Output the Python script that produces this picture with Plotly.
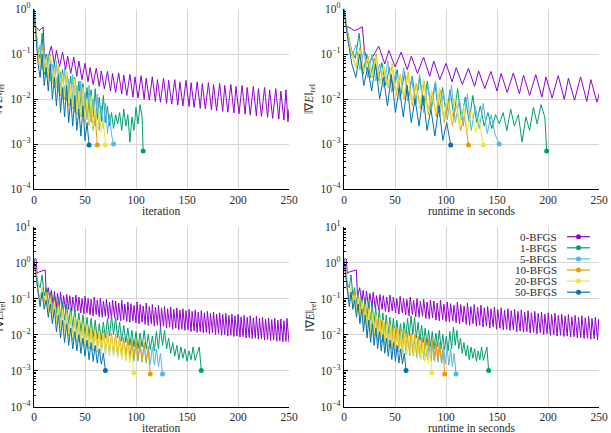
import plotly.graph_objects as go
from plotly.subplots import make_subplots

W, H = 611, 433
FONT = "Liberation Serif, Times New Roman, serif"

series_names = ["0-BFGS", "1-BFGS", "5-BFGS", "10-BFGS", "20-BFGS", "50-BFGS"]
series_colors = ["#9400d3", "#009e73", "#56b4e9", "#e69f00", "#f0e442", "#0072b2"]

x_ticks = [0, 50, 100, 150, 200, 250]
x_title_iter = "iteration"
x_title_time = "runtime in seconds"
y_title = "\u2016\u2207<i>E</i>\u2016<sub>rel</sub>"

# ---------------- top row (first problem) ----------------
top0_iter = [0, 1, 3, 5, 7, 9, 10, 12, 14,
             17, 20, 22, 25, 28, 31, 33, 36, 39, 42, 44, 47, 50, 53, 55, 58, 61, 64, 66, 69, 72, 75, 77, 80,
             83, 86, 88, 91, 94, 97, 99, 102, 105, 108, 110, 113, 116, 119, 121, 124, 127, 130, 132, 135,
             138, 141, 143, 146, 149, 152, 154, 157, 160, 163, 165, 168, 171, 174, 176, 179, 182, 185, 187,
             190, 193, 196, 198, 201, 204, 207, 209, 212, 215, 218, 220, 223, 226, 229, 231, 234, 237, 240,
             242, 245, 247, 249, 250]
top0_grad = [1.0, 0.42, 0.38, 0.33, 0.36, 0.4, 0.12, 0.06, 0.085,
             0.15, 0.06, 0.12, 0.052, 0.11, 0.045, 0.09, 0.037, 0.085, 0.032, 0.07, 0.027, 0.062, 0.024,
             0.05, 0.021, 0.048, 0.019, 0.042, 0.017, 0.041, 0.015, 0.037, 0.014, 0.038, 0.013, 0.034, 0.012,
             0.035, 0.011, 0.031, 0.0105, 0.033, 0.0098, 0.029, 0.0094, 0.031, 0.0088, 0.027, 0.0085, 0.029,
             0.008, 0.026, 0.0077, 0.027, 0.0073, 0.024, 0.007, 0.026, 0.0068, 0.023, 0.0065, 0.024, 0.0062,
             0.022, 0.006, 0.023, 0.0057, 0.021, 0.0055, 0.022, 0.0053, 0.02, 0.0051, 0.021, 0.0049, 0.019,
             0.0047, 0.02, 0.0046, 0.018, 0.0044, 0.019, 0.0042, 0.017, 0.0041, 0.018, 0.0039, 0.016, 0.0037,
             0.017, 0.0036, 0.015, 0.0034, 0.016, 0.0031, 0.006]
top0_secs = [0, 2, 6, 10, 14, 18, 20, 24, 28, 34, 40, 44, 50, 56, 62, 66, 72, 78, 84, 88, 94, 100, 106, 110,
             116, 122, 128, 132, 138, 144, 150, 154, 160, 166, 172, 176, 182, 188, 194, 198, 204, 210, 216,
             220, 226, 232, 238, 242, 248, 254]

top1_iter = [0, 2, 4, 6, 8, 10, 12, 14, 16, 18, 20, 22, 24, 26, 28, 30, 32, 34, 36, 38, 40, 42, 44, 46, 48,
             50, 52, 54, 56, 58, 60, 62, 64, 66, 68, 70, 72, 74, 76, 78, 80, 82, 84, 86, 88, 90, 92, 94, 96,
             98, 100, 102, 104, 106, 107]
top1_grad = [1.0, 0.3, 0.12, 0.08, 0.29, 0.035, 0.1, 0.03, 0.08, 0.025, 0.065, 0.02, 0.05, 0.015, 0.045,
             0.012, 0.04, 0.01, 0.032, 0.008, 0.03, 0.007, 0.025, 0.006, 0.022, 0.005, 0.018, 0.0045, 0.016,
             0.004, 0.017, 0.0035, 0.011, 0.0032, 0.012, 0.003, 0.007, 0.0025, 0.005, 0.0022, 0.0045, 0.0028,
             0.005, 0.002, 0.006, 0.0025, 0.0045, 0.0011, 0.004, 0.002, 0.0065, 0.0028, 0.0075, 0.004, 0.0007]
top1_secs = [0, 3.7, 7.4, 11.1, 14.9, 18.6, 22.3, 26, 29.7, 33.4, 37.1, 40.9, 44.6, 48.3, 52, 55.7, 59.4,
             63.1, 66.9, 70.6, 74.3, 78, 81.7, 85.4, 89.1, 92.9, 96.6, 100.3, 104, 107.7, 111.4, 115.1, 118.9,
             122.6, 126.3, 130, 133.7, 137.4, 141.1, 144.9, 148.6, 152.3, 156, 159.7, 163.4, 167.1, 170.9,
             174.6, 178.3, 182, 185.7, 189.4, 193.1, 196.9, 198.7]

top5_iter = [0, 2, 4, 6, 8, 10, 12, 14, 16, 18, 20, 22, 24, 26, 28, 30, 32, 34, 36, 38, 40, 42, 44, 46, 48,
             50, 52, 54, 56, 58, 60, 62, 64, 66, 68, 70, 72, 74, 76, 78]
top5_grad = [1.0, 0.22, 0.09, 0.16, 0.045, 0.12, 0.03, 0.1, 0.025, 0.06, 0.018, 0.07, 0.014, 0.04, 0.01,
             0.05, 0.009, 0.028, 0.007, 0.035, 0.005, 0.02, 0.006, 0.025, 0.004, 0.014, 0.0035, 0.02, 0.003,
             0.01, 0.0025, 0.013, 0.002, 0.007, 0.0022, 0.008, 0.0017, 0.0045, 0.0016, 0.001]
top5_secs = [0, 3.9, 7.8, 11.7, 15.6, 19.5, 23.4, 27.3, 31.2, 35.1, 39, 42.9, 46.8, 50.7, 54.6, 58.5, 62.4,
             66.3, 70.2, 74.1, 78, 81.9, 85.8, 89.7, 93.6, 97.5, 101.4, 105.3, 109.2, 113.1, 117, 120.9,
             124.8, 128.7, 132.6, 136.5, 140.4, 144.3, 148.2, 152.1]

top10_iter = [0, 2, 4, 6, 8, 10, 12, 14, 16, 18, 20, 22, 24, 26, 28, 30, 32, 34, 36, 38, 40, 42, 44, 46,
              48, 50, 52, 54, 56, 58, 60, 62]
top10_grad = [1.0, 0.25, 0.1, 0.05, 0.14, 0.04, 0.09, 0.03, 0.1, 0.022, 0.05, 0.018, 0.06, 0.012, 0.035,
              0.01, 0.04, 0.007, 0.022, 0.006, 0.025, 0.0045, 0.014, 0.004, 0.016, 0.003, 0.009, 0.0026,
              0.008, 0.002, 0.0045, 0.00095]
top10_secs = [0, 3.9, 7.9, 11.8, 15.7, 19.7, 23.6, 27.6, 31.5, 35.4, 39.4, 43.3, 47.2, 51.2, 55.1, 59, 63,
              66.9, 70.8, 74.8, 78.7, 82.7, 86.6, 90.5, 94.5, 98.4, 102.3, 106.3, 110.2, 114.2, 118.1, 122]

top20_iter = [0, 2, 4, 6, 8, 10, 12, 14, 16, 18, 20, 22, 24, 26, 28, 30, 32, 34, 36, 38, 40, 42, 44, 46,
              48, 50, 52, 54, 56, 58, 60, 62, 64, 66, 68, 70]
top20_grad = [1.0, 0.25, 0.1, 0.05, 0.12, 0.04, 0.08, 0.03, 0.09, 0.022, 0.05, 0.018, 0.06, 0.013, 0.035,
              0.011, 0.04, 0.008, 0.022, 0.0065, 0.028, 0.005, 0.015, 0.0045, 0.018, 0.0035, 0.01, 0.003,
              0.012, 0.0025, 0.007, 0.002, 0.006, 0.0018, 0.0035, 0.00095]
top20_secs = [0, 3.9, 7.8, 11.7, 15.6, 19.5, 23.4, 27.3, 31.2, 35.1, 39, 42.9, 46.8, 50.7, 54.6, 58.5, 62.4,
              66.3, 70.2, 74.1, 78, 81.9, 85.8, 89.7, 93.6, 97.5, 101.4, 105.3, 109.2, 113.1, 117, 120.9,
              124.8, 128.7, 132.6, 136.6]

top50_iter = [0, 2, 4, 6, 8, 10, 12, 14, 16, 18, 20, 22, 24, 26, 28, 30, 32, 34, 36, 38, 40, 42, 44, 46,
              48, 50, 52, 54]
top50_grad = [1.0, 0.2, 0.06, 0.03, 0.1, 0.02, 0.05, 0.015, 0.06, 0.01, 0.03, 0.007, 0.035, 0.005, 0.018,
              0.004, 0.02, 0.003, 0.01, 0.0025, 0.012, 0.002, 0.006, 0.0015, 0.007, 0.0012, 0.003, 0.00095]
top50_secs = [0, 3.9, 7.7, 11.6, 15.5, 19.4, 23.2, 27.1, 31, 34.9, 38.7, 42.6, 46.5, 50.4, 54.2, 58.1, 62,
              65.9, 69.7, 73.6, 77.5, 81.4, 85.2, 89.1, 93, 96.9, 100.7, 104.6]

# ---------------- bottom row (second problem) ----------------
bot0_iter = [0, 1, 2, 3, 5, 7, 9, 11, 12, 14, 16, 17, 19, 20, 22, 23, 25, 26, 28, 29, 31, 32, 34, 35, 37, 38,
             40, 41, 43, 44, 46, 47, 49, 50, 52, 53, 55, 56, 58, 59, 61, 62, 64, 65, 67, 68, 70, 71, 73, 74,
             76, 77, 79, 80, 82, 83, 85, 86, 88, 89, 91, 92, 94, 95, 97, 98, 100, 101, 103, 104, 106, 107,
             109, 110, 112, 113, 115, 116, 118, 119, 121, 122, 124, 125, 127, 128, 130, 131, 133, 134, 136,
             137, 139, 140, 142, 143, 145, 146, 148, 149, 151, 152, 154, 155, 157, 158, 160, 161, 163, 164,
             166, 167, 169, 170, 172, 173, 175, 176, 178, 179, 181, 182, 184, 185, 187, 188, 190, 191, 193,
             194, 196, 197, 199, 200, 202, 203, 205, 206, 208, 209, 211, 212, 214, 215, 217, 218, 220, 221,
             223, 224, 226, 227, 229, 230, 232, 233, 235, 236, 238, 239, 241, 242, 244, 245, 247, 248, 250]
bot0_grad = [1.1, 1.3, 1.25, 0.5, 0.55, 0.57, 0.58, 0.62, 0.12,
             0.2, 0.07, 0.17, 0.06, 0.16, 0.055, 0.14, 0.06, 0.15, 0.05, 0.12, 0.047, 0.13, 0.05, 0.12, 0.044,
             0.11, 0.042, 0.125, 0.045, 0.11, 0.04, 0.1, 0.037, 0.115, 0.04, 0.1, 0.035, 0.095, 0.033, 0.11,
             0.036, 0.09, 0.031, 0.1, 0.03, 0.085, 0.032, 0.095, 0.028, 0.08, 0.027, 0.09, 0.029, 0.085, 0.025,
             0.075, 0.024, 0.09, 0.026, 0.07, 0.023, 0.08, 0.022, 0.072, 0.024, 0.065, 0.021, 0.08, 0.02,
             0.068, 0.022, 0.062, 0.019, 0.075, 0.018, 0.06, 0.02, 0.068, 0.017, 0.058, 0.018, 0.065, 0.016,
             0.055, 0.017, 0.06, 0.015, 0.052, 0.016, 0.058, 0.014, 0.05, 0.015, 0.055, 0.0135, 0.048, 0.014,
             0.052, 0.013, 0.046, 0.0135, 0.05, 0.012, 0.044, 0.0125, 0.048, 0.0115, 0.042, 0.012, 0.046,
             0.011, 0.04, 0.0115, 0.044, 0.0105, 0.039, 0.011, 0.042, 0.01, 0.037, 0.0105, 0.04, 0.0095,
             0.036, 0.01, 0.039, 0.009, 0.034, 0.0095, 0.037, 0.0088, 0.033, 0.009, 0.036, 0.0085, 0.031,
             0.0087, 0.034, 0.008, 0.03, 0.0082, 0.033, 0.0077, 0.029, 0.0079, 0.032, 0.0074, 0.028, 0.0076,
             0.03, 0.0071, 0.027, 0.0073, 0.029, 0.0068, 0.026, 0.007, 0.028, 0.0065, 0.025, 0.0067, 0.027,
             0.0062, 0.024, 0.0064, 0.028, 0.006]
bot0_secs = [0, 1.1, 2.2, 3.3, 5.5, 7.7, 9.9, 12.1, 13.2, 15.4, 17.6, 18.7, 20.9, 22, 24.2, 25.3, 27.5,
             28.6, 30.8, 31.9, 34.1, 35.2, 37.4, 38.5, 40.7, 41.8, 44, 45.1, 47.3, 48.4, 50.6, 51.7, 53.9, 55,
             57.2, 58.3, 60.5, 61.6, 63.8, 64.9, 67.1, 68.2, 70.4, 71.5, 73.7, 74.8, 77, 78.1, 80.3, 81.4,
             83.6, 84.7, 86.9, 88, 90.2, 91.3, 93.5, 94.6, 96.8, 97.9, 100.1, 101.2, 103.4, 104.5, 106.7,
             107.8, 110, 111.1, 113.3, 114.4, 116.6, 117.7, 119.9, 121, 123.2, 124.3, 126.5, 127.6, 129.8,
             130.9, 133.1, 134.2, 136.4, 137.5, 139.7, 140.8, 143, 144.1, 146.3, 147.4, 149.6, 150.7, 152.9,
             154, 156.2, 157.3, 159.5, 160.6, 162.8, 163.9, 166.1, 167.2, 169.4, 170.5, 172.7, 173.8, 176,
             177.1, 179.3, 180.4, 182.6, 183.7, 185.9, 187, 189.2, 190.3, 192.5, 193.6, 195.8, 196.9, 199.1,
             200.2, 202.4, 203.5, 205.7, 206.8, 209, 210.1, 212.3, 213.4, 215.6, 216.7, 218.9, 220, 222.2,
             223.3, 225.5, 226.6, 228.8, 229.9, 232.1, 233.2, 235.4, 236.5, 238.7, 239.8, 242, 243.1, 245.3,
             246.4, 248.6, 249.7, 251.9]

bot1_iter = [0, 2, 4, 6, 8, 10, 12, 14, 16, 18, 20, 22, 24, 26, 28, 30, 32, 34, 36, 38, 40, 42, 44, 46, 48,
             50, 52, 54, 56, 58, 60, 62, 64, 66, 68, 70, 72, 74, 76, 78, 80, 82, 84, 86, 88, 90, 92, 94, 96,
             98, 100, 102, 104, 106, 108, 110, 112, 114, 116, 118, 120, 122, 124, 126, 128, 130, 132, 134,
             136, 138, 140, 142, 144, 146, 148, 150, 152, 154, 156, 158, 160, 162, 164]
bot1_grad = [1.2, 0.6, 0.25, 0.2, 0.45, 0.12, 0.2, 0.07, 0.15, 0.05, 0.12, 0.04, 0.1, 0.03, 0.08, 0.025,
             0.07, 0.02, 0.055, 0.016, 0.05, 0.014, 0.04, 0.012, 0.035, 0.01, 0.03, 0.009, 0.028, 0.008, 0.025,
             0.0075, 0.02, 0.007, 0.022, 0.008, 0.028, 0.009, 0.033, 0.01, 0.03, 0.008, 0.022, 0.0065, 0.018,
             0.006, 0.015, 0.005, 0.013, 0.0045, 0.012, 0.004, 0.011, 0.0045, 0.013, 0.004, 0.01, 0.0038, 0.009,
             0.0035, 0.012, 0.004, 0.016, 0.005, 0.013, 0.004, 0.008, 0.003, 0.006, 0.0025, 0.005, 0.002,
             0.0045, 0.0022, 0.004, 0.0018, 0.0035, 0.002, 0.0045, 0.0019, 0.003, 0.0045, 0.001]
bot1_secs = [0, 1.7, 3.5, 5.2, 6.9, 8.7, 10.4, 12.1, 13.8, 15.6, 17.3, 19, 20.8, 22.5, 24.2, 26, 27.7, 29.4,
             31.1, 32.9, 34.6, 36.3, 38.1, 39.8, 41.5, 43.3, 45, 46.7, 48.4, 50.2, 51.9, 53.6, 55.4, 57.1,
             58.8, 60.6, 62.3, 64, 65.7, 67.5, 69.2, 70.9, 72.7, 74.4, 76.1, 77.9, 79.6, 81.3, 83, 84.8, 86.5,
             88.2, 90, 91.7, 93.4, 95.2, 96.9, 98.6, 100.3, 102.1, 103.8, 105.5, 107.3, 109, 110.7, 112.5,
             114.2, 115.9, 117.6, 119.4, 121.1, 122.8, 124.6, 126.3, 128, 129.8, 131.5, 133.2, 134.9, 136.7,
             138.4, 140.1, 141.8]

bot5_iter = [0, 2, 4, 6, 8, 10, 12, 14, 16, 18, 20, 22, 24, 26, 28, 30, 32, 34, 36, 38, 40, 42, 44, 46, 48,
             50, 52, 54, 56, 58, 60, 62, 64, 66, 68, 70, 72, 74, 76, 78, 80, 82, 84, 86, 88, 90, 92, 94, 96,
             98, 100, 102, 104, 106, 108, 110, 112, 114, 116, 118, 120, 122, 124, 126]
bot5_grad = [1.2, 0.5, 0.15, 0.08, 0.2, 0.06, 0.12, 0.04, 0.09, 0.03, 0.07, 0.022, 0.055, 0.016, 0.045,
             0.012, 0.035, 0.009, 0.03, 0.007, 0.025, 0.006, 0.02, 0.005, 0.018, 0.0045, 0.016, 0.004, 0.014,
             0.0035, 0.013, 0.0032, 0.012, 0.003, 0.011, 0.0028, 0.01, 0.0026, 0.0095, 0.0025, 0.009, 0.0023,
             0.008, 0.0022, 0.0075, 0.002, 0.007, 0.002, 0.0065, 0.0018, 0.006, 0.0018, 0.0055, 0.0017, 0.005,
             0.0016, 0.0048, 0.0015, 0.0045, 0.0014, 0.004, 0.0013, 0.003, 0.0008]
bot5_secs = [0, 1.7, 3.5, 5.2, 7, 8.7, 10.5, 12.2, 13.9, 15.7, 17.4, 19.2, 20.9, 22.6, 24.4, 26.1, 27.9,
             29.6, 31.4, 33.1, 34.8, 36.6, 38.3, 40.1, 41.8, 43.6, 45.3, 47, 48.8, 50.5, 52.3, 54, 55.7, 57.5,
             59.2, 61, 62.7, 64.5, 66.2, 67.9, 69.7, 71.4, 73.2, 74.9, 76.6, 78.4, 80.1, 81.9, 83.6, 85.4,
             87.1, 88.8, 90.6, 92.3, 94.1, 95.8, 97.6, 99.3, 101, 102.8, 104.5, 106.3, 108, 109.8]

bot10_iter = [0, 2, 4, 6, 8, 10, 12, 14, 16, 18, 20, 22, 24, 26, 28, 30, 32, 34, 36, 38, 40, 42, 44, 46,
              48, 50, 52, 54, 56, 58, 60, 62, 64, 66, 68, 70, 72, 74, 76, 78, 80, 82, 84, 86, 88, 90, 92, 94,
              96, 98, 100, 102, 104, 106, 108, 110, 112, 114]
bot10_grad = [1.2, 0.5, 0.15, 0.1, 0.18, 0.08, 0.15, 0.05, 0.12, 0.04, 0.09, 0.03, 0.07, 0.02, 0.055,
              0.015, 0.045, 0.012, 0.035, 0.01, 0.03, 0.008, 0.025, 0.007, 0.022, 0.006, 0.02, 0.0055, 0.018,
              0.005, 0.016, 0.0045, 0.014, 0.004, 0.013, 0.0038, 0.012, 0.0035, 0.011, 0.0032, 0.01, 0.003,
              0.009, 0.0028, 0.0085, 0.0026, 0.008, 0.0024, 0.0075, 0.0022, 0.007, 0.002, 0.0065, 0.0019,
              0.006, 0.0018, 0.004, 0.0008]
bot10_secs = [0, 1.7, 3.5, 5.2, 6.9, 8.7, 10.4, 12.1, 13.9, 15.6, 17.3, 19, 20.8, 22.5, 24.2, 26, 27.7,
              29.4, 31.2, 32.9, 34.6, 36.4, 38.1, 39.8, 41.6, 43.3, 45, 46.8, 48.5, 50.2, 52, 53.7, 55.4,
              57.2, 58.9, 60.6, 62.4, 64.1, 65.8, 67.5, 69.3, 71, 72.7, 74.5, 76.2, 77.9, 79.7, 81.4, 83.1,
              84.9, 86.6, 88.3, 90.1, 91.8, 93.5, 95.3, 97, 98.7]

bot20_iter = [0, 2, 4, 6, 8, 10, 12, 14, 16, 18, 20, 22, 24, 26, 28, 30, 32, 34, 36, 38, 40, 42, 44, 46,
              48, 50, 52, 54, 56, 58, 60, 62, 64, 66, 68, 70, 72, 74, 76, 78, 80, 82, 84, 86, 88, 90, 92, 94,
              96, 98]
bot20_grad = [1.2, 0.5, 0.15, 0.08, 0.2, 0.06, 0.12, 0.04, 0.1, 0.03, 0.08, 0.02, 0.06, 0.015, 0.05, 0.012,
              0.04, 0.01, 0.035, 0.008, 0.03, 0.007, 0.025, 0.006, 0.02, 0.005, 0.018, 0.0045, 0.015, 0.004,
              0.013, 0.0035, 0.012, 0.003, 0.011, 0.003, 0.01, 0.0028, 0.009, 0.0025, 0.008, 0.0022, 0.007,
              0.002, 0.006, 0.0018, 0.005, 0.0016, 0.0035, 0.00085]
bot20_secs = [0, 1.8, 3.5, 5.3, 7, 8.8, 10.6, 12.3, 14.1, 15.8, 17.6, 19.4, 21.1, 22.9, 24.6, 26.4, 28.2,
              29.9, 31.7, 33.4, 35.2, 37, 38.7, 40.5, 42.2, 44, 45.8, 47.5, 49.3, 51, 52.8, 54.6, 56.3, 58.1,
              59.8, 61.6, 63.4, 65.1, 66.9, 68.6, 70.4, 72.2, 73.9, 75.7, 77.4, 79.2, 81, 82.7, 84.5, 86.2]

bot50_iter = [0, 2, 4, 6, 8, 10, 12, 14, 16, 18, 20, 22, 24, 26, 28, 30, 32, 34, 36, 38, 40, 42, 44, 46,
              48, 50, 52, 54, 56, 58, 60, 62, 64, 66, 68, 70]
bot50_grad = [1.2, 0.4, 0.12, 0.06, 0.15, 0.05, 0.09, 0.03, 0.07, 0.02, 0.05, 0.012, 0.035, 0.008, 0.025,
              0.006, 0.02, 0.005, 0.015, 0.004, 0.012, 0.0035, 0.01, 0.003, 0.008, 0.0025, 0.007, 0.002, 0.006,
              0.0018, 0.005, 0.0016, 0.004, 0.0015, 0.003, 0.001]
bot50_secs = [0, 1.7, 3.5, 5.2, 6.9, 8.7, 10.4, 12.2, 13.9, 15.6, 17.4, 19.1, 20.8, 22.6, 24.3, 26.1, 27.8,
              29.5, 31.3, 33, 34.7, 36.5, 38.2, 40, 41.7, 43.4, 45.2, 46.9, 48.6, 50.4, 52.1, 53.8, 55.6, 57.3,
              59.1, 60.8]

top_iter = [top0_iter, top1_iter, top5_iter, top10_iter, top20_iter, top50_iter]
top_grad = [top0_grad, top1_grad, top5_grad, top10_grad, top20_grad, top50_grad]
top_secs = [top0_secs, top1_secs, top5_secs, top10_secs, top20_secs, top50_secs]
bot_iter = [bot0_iter, bot1_iter, bot5_iter, bot10_iter, bot20_iter, bot50_iter]
bot_grad = [bot0_grad, bot1_grad, bot5_grad, bot10_grad, bot20_grad, bot50_grad]
bot_secs = [bot0_secs, bot1_secs, bot5_secs, bot10_secs, bot20_secs, bot50_secs]

fig = make_subplots(rows=2, cols=2)


def add_series(xs, ys, color, row, col, finished):
    n = min(len(xs), len(ys))
    xs, ys = xs[:n], ys[:n]
    fig.add_trace(go.Scatter(x=xs, y=ys, mode="lines", line=dict(color=color, width=1),
                             showlegend=False, hoverinfo="skip"), row=row, col=col)
    if finished:
        fig.add_trace(go.Scatter(x=[xs[-1]], y=[ys[-1]], mode="markers",
                                 marker=dict(color=color, size=5), showlegend=False,
                                 hoverinfo="skip", cliponaxis=False), row=row, col=col)


for i in range(6):
    fin = i > 0
    add_series(top_iter[i], top_grad[i], series_colors[i], 1, 1, fin)
    add_series(top_secs[i], top_grad[i], series_colors[i], 1, 2, fin)
    add_series(bot_iter[i], bot_grad[i], series_colors[i], 2, 1, fin)
    add_series(bot_secs[i], bot_grad[i], series_colors[i], 2, 2, fin)


def px_x(p):
    return p / W


def px_y(p):
    return 1 - p / H


GRID = "#d6d6d6"
TXT = "#2a2a2a"
tickfont = dict(family=FONT, size=11.5, color=TXT)

xcommon = dict(range=[0, 250], tickmode="array", tickvals=x_ticks, showgrid=True, gridcolor=GRID,
               gridwidth=1, showline=True, linecolor="black", linewidth=1.2, zeroline=False,
               ticks="", tickfont=tickfont, automargin=False)


def log_ticks(lo, hi):
    vals = [10.0 ** e for e in range(lo, hi + 1)]
    txt = ["10<sup>%s</sup>" % (str(e).replace("-", "\u2212")) for e in range(lo, hi + 1)]
    minor = [m * 10.0 ** e for e in range(lo, hi) for m in range(2, 10)]
    return vals, txt, minor


for key, (x0, x1) in {"xaxis": (34, 289), "xaxis2": (344, 599), "xaxis3": (34, 289), "xaxis4": (344, 599)}.items():
    d = dict(xcommon)
    d["domain"] = [px_x(x0), px_x(x1)]
    fig.update_layout({key: d})

for key, (y0, y1, lo, hi) in {"yaxis": (9, 189, -4, 0), "yaxis2": (9, 189, -4, 0),
                               "yaxis3": (226.5, 406.5, -4, 1), "yaxis4": (226.5, 406.5, -4, 1)}.items():
    vals, txt, minor = log_ticks(lo, hi)
    fig.update_layout({key: dict(type="log", range=[lo, hi], domain=[px_y(y1), px_y(y0)],
                                 tickmode="array", tickvals=vals, ticktext=txt, tickfont=tickfont,
                                 showgrid=True, gridcolor=GRID, gridwidth=1, showline=True,
                                 linecolor="black", linewidth=1.2, zeroline=False,
                                 ticks="inside", ticklen=4, tickcolor="black", tickwidth=1,
                                 minor=dict(tickmode="array", tickvals=minor, ticks="inside", ticklen=2,
                                            tickcolor="black", showgrid=False),
                                 automargin=False)})

annotations = []
shapes = []

# axis titles placed like the reference (left-panel y titles run off the page edge)
for (xc, yc, txt) in [(161.5, 211, x_title_iter), (471.5, 211, x_title_time),
                      (161.5, 428, x_title_iter), (471.5, 428, x_title_time)]:
    annotations.append(dict(text=txt, x=px_x(xc), y=px_y(yc), xref="paper", yref="paper",
                            xanchor="center", yanchor="middle", showarrow=False,
                            font=dict(family=FONT, size=11.5, color=TXT)))
for (xc, yc) in [(-1, 99), (310, 99), (-1, 316.5), (310, 316.5)]:
    annotations.append(dict(text=y_title, x=px_x(xc), y=px_y(yc), xref="paper", yref="paper",
                            xanchor="center", yanchor="middle", showarrow=False, textangle=-90,
                            font=dict(family=FONT, size=11.5, color=TXT)))

# custom legend (text left of the line sample, as in the reference)
for i, (nm, c) in enumerate(zip(series_names, series_colors)):
    yc = 236.7 + 11.1 * i
    annotations.append(dict(text=nm, x=px_x(559), y=px_y(yc), xref="paper", yref="paper",
                            xanchor="right", yanchor="middle", showarrow=False,
                            font=dict(family=FONT, size=11, color=TXT)))
    shapes.append(dict(type="line", xref="paper", yref="paper", x0=px_x(567), x1=px_x(590),
                       y0=px_y(yc), y1=px_y(yc), line=dict(color=c, width=1.2)))
    shapes.append(dict(type="circle", xref="paper", yref="paper", x0=px_x(576), x1=px_x(581),
                       y0=px_y(yc + 2.5), y1=px_y(yc - 2.5), fillcolor=c, line=dict(color=c, width=0)))

fig.update_layout(template="none", width=W, height=H, margin=dict(l=0, r=0, t=0, b=0),
                  paper_bgcolor="white", plot_bgcolor="white", showlegend=False,
                  font=dict(family=FONT, size=11.5, color=TXT),
                  shapes=shapes, annotations=annotations)

fig.write_html("out.html")
